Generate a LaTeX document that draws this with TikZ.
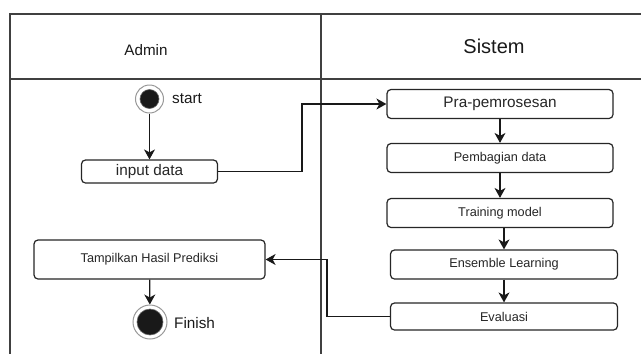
\documentclass[tikz,border=0pt]{standalone}
\usepackage{fontspec}
\setmainfont{Liberation Sans}
\usetikzlibrary{arrows.meta}
\begin{document}
\begin{tikzpicture}[x=1pt,y=-1pt,
  act/.style={draw=black!85, line width=1.2pt, rounded corners=4pt, fill=white,
              inner sep=0pt, text=black!85, font=\fontsize{12.7}{14}\selectfont},
  bigact/.style={act, font=\fontsize{15.3}{17}\selectfont},
  flow/.style={line width=1.2pt, draw=black!90, -{Stealth[length=10pt,width=11pt,inset=3pt]}},
  lane/.style={line width=1.3pt, draw=black!75},
  ring/.style={circle, draw=black!40, line width=1pt, fill=white, inner sep=0pt},
  dot/.style={circle, fill=black!90, draw=black!60, line width=0.6pt, inner sep=0pt},
  tag/.style={anchor=west, inner sep=0pt, text=black!90, font=\fontsize{15.3}{17}\selectfont},
]
\useasboundingbox (0,0) rectangle (641,354);

% swimlane frame
\draw[lane] (10,354) -- (10,14) -- (641,14);
\draw[lane] (10,79) -- (641,79);
\draw[lane] (321,14) -- (321,354);
\node[text=black!90, font=\fontsize{15.2}{17}\selectfont] (admin) at (146,50) {Admin};
\node[text=black!90, font=\fontsize{20}{23}\selectfont] (sistem) at (494,46) {Sistem};

% initial and final states
\node[ring, minimum size=28pt] (start) at (149.5,99) {};
\node[dot, minimum size=19pt] (startdot) at (start.center) {};
\node[tag] (startlbl) at (172,99) {start};

\node[ring, minimum size=34pt] (finish) at (150,322) {};
\node[dot, minimum size=26pt] (finishdot) at (finish.center) {};
\node[tag] (finishlbl) at (174,323) {Finish};

% Admin actions
\node[bigact, minimum width=136pt, minimum height=23pt] (input) at (149.5,171.5) {input data};
\node[act, minimum width=231pt, minimum height=39pt] (tampil) at (149.5,259.5) {Tampilkan Hasil Prediksi};

% System actions
\node[bigact, minimum width=226pt, minimum height=29pt] (pra) at (500,104) {Pra-pemrosesan};
\node[act, minimum width=226pt, minimum height=29pt] (bagi) at (500,158) {Pembagian data};
\node[act, minimum width=226pt, minimum height=29pt] (train) at (500,213) {Training model};
\node[act, minimum width=227pt, minimum height=29pt] (ens) at (504,264.5) {Ensemble Learning};
\node[act, minimum width=227pt, minimum height=27pt] (eval) at (504,316.5) {Evaluasi};

% bend points
\coordinate (j1) at (302,171.5);
\coordinate (j2) at (327,316.5);

% control flow
\draw[flow] (start) -- (input);
\draw[flow] (input.east) -- (j1) |- (pra.west);
\draw[flow] (pra) -- (bagi);
\draw[flow] (bagi) -- (train);
\draw[flow] (ens.north |- train.south) -- (ens.north);
\draw[flow] (ens) -- (eval);
\draw[flow] (eval.west) -- (j2) |- (tampil.east);
\draw[flow] (tampil) -- (finish);
\end{tikzpicture}
\end{document}
